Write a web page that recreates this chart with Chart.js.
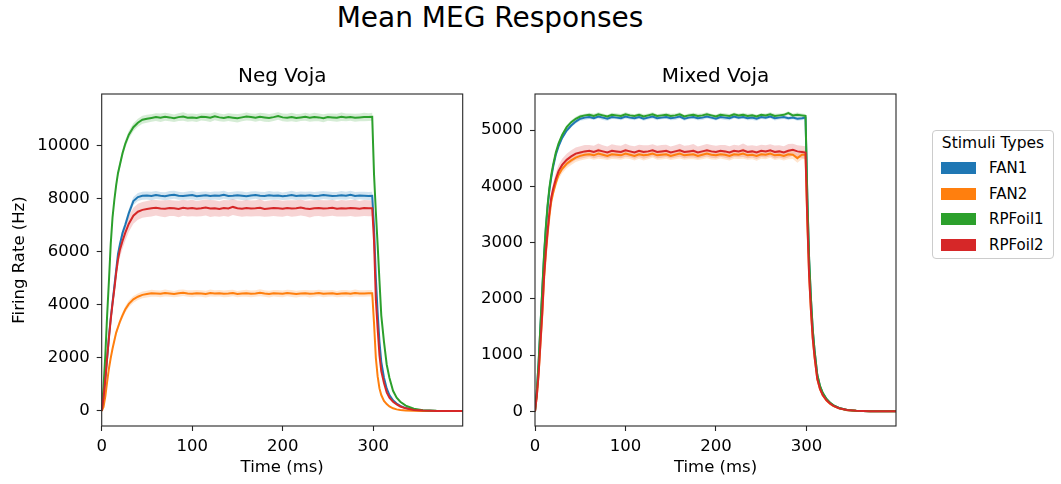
<!DOCTYPE html>
<html>
<head>
<meta charset="utf-8">
<script src="https://cdn.jsdelivr.net/npm/chart.js@4.4.1/dist/chart.umd.min.js"></script>
<style>
html,body{margin:0;padding:0;background:#fff;}
body{width:1061px;height:484px;position:relative;overflow:hidden;font-family:'DejaVu Sans',sans-serif;color:#000;}
#suptitle{position:absolute;left:0;width:980px;top:4px;text-align:center;font-size:28px;line-height:28px;}
#c1{position:absolute;left:0;top:0;}
#c2{position:absolute;left:470px;top:0;}
#legend{position:absolute;left:932px;top:130px;width:122px;height:129px;box-sizing:border-box;border:1px solid #cccccc;border-radius:4px;background:#fff;}
#legend .ttl{position:absolute;left:0;width:100%;top:3px;text-align:center;font-size:15.5px;line-height:18px;white-space:nowrap;}
#legend .sw{position:absolute;left:8px;width:35px;height:12px;}
#legend .lb{position:absolute;left:56px;font-size:15px;line-height:18px;white-space:nowrap;}
</style>
</head>
<body>
<div id="suptitle">Mean MEG Responses</div>
<canvas id="c1" width="470" height="484"></canvas>
<canvas id="c2" width="440" height="484"></canvas>
<div id="legend"></div>
<script>
// ---------- data ----------
const SERIES = ['FAN1', 'FAN2', 'RPFoil1', 'RPFoil2'];
const COLORS = ['#1f77b4', '#ff7f0e', '#2ca02c', '#d62728'];
const BAND_COLORS = ['rgba(31,119,180,0.2)', 'rgba(255,127,14,0.2)', 'rgba(44,160,44,0.2)', 'rgba(214,39,40,0.2)'];
const PANEL_TITLES = ['Neg Voja', 'Mixed Voja'];
const LEGEND_TITLE = 'Stimuli Types';
const X_TICKS = [0, 100, 200, 300];
const Y_TICKS_NEG = [0, 2000, 4000, 6000, 8000, 10000];
const Y_TICKS_MIX = [0, 1000, 2000, 3000, 4000, 5000];

const TIME_MS = [0,2,4,6,8,10,12,14,16,18,20,23,26,30,35,40,45,
  50,55,60,65,70,75,80,85,90,95,100,105,110,115,120,125,130,135,140,145,150,155,160,165,170,175,180,185,190,195,200,205,210,215,220,225,230,235,240,245,250,255,260,265,270,275,280,285,290,295,
  299,301,303,305,307,309,312,315,318,322,326,330,336,345,355,370,385,399];

// Neg Voja – mean firing rate (Hz)
const negFAN1 = [0,500,1200,2000,2800,3500,4100,4700,5300,5900,6250,6700,7000,7450,7900,8050,8100,
  8110,8090,8130,8100,8080,8120,8140,8100,8090,8110,
  8130,8080,8100,8120,8090,8110,8100,8140,8090,8100,
  8120,8100,8080,8110,8130,8100,8090,8120,8100,8110,
  8080,8100,8130,8090,8110,8100,8120,8090,8100,8130,
  8110,8090,8100,8120,8100,8140,8090,8110,8100,8090,
  8100,6900,5000,3700,2600,1850,1250,850,600,400,280,190,110,45,16,4,1,0];
const negFAN2 = [0,150,550,1100,1600,2000,2350,2650,2950,3150,3350,3600,3820,4030,4200,4300,4370,
  4400,4430,4420,4410,4440,4420,4400,4430,4450,4420,
  4410,4430,4420,4400,4440,4420,4430,4410,4420,4440,
  4400,4420,4430,4410,4420,4450,4420,4400,4430,4420,
  4410,4440,4420,4400,4420,4430,4410,4420,4440,4410,
  4420,4430,4400,4420,4430,4410,4440,4420,4420,4430,
  4430,3300,2000,1300,850,600,380,260,170,100,60,40,20,8,3,1,0,0];
const negRPFoil1 = [0,900,2100,3600,4900,6300,7300,7950,8500,8950,9250,9700,10050,10400,10680,10850,10960,
  11000,11030,11060,11040,11070,11050,11020,11060,11080,11040,
  11050,11030,11070,11060,11040,11090,11050,11030,11060,11040,
  11020,11050,11080,11060,11040,11070,11050,11030,11060,11100,
  11050,11040,11060,11030,11050,11070,11040,11060,11050,11020,
  11060,11050,11040,11070,11050,11060,11040,11050,11060,11060,
  11070,8900,7500,6250,4900,3600,2600,1750,1250,760,500,350,200,85,30,8,2,0];
const negRPFoil2 = [0,500,1200,2000,2750,3450,4050,4600,5200,5700,6050,6400,6700,7050,7350,7500,7570,
  7600,7630,7650,7620,7610,7640,7630,7600,7650,7620,
  7640,7610,7630,7660,7620,7630,7600,7640,7620,7680,
  7630,7610,7640,7620,7630,7650,7600,7620,7640,7630,
  7610,7640,7620,7630,7660,7620,7600,7630,7640,7620,
  7630,7650,7610,7630,7620,7640,7630,7610,7640,7630,
  7630,6400,4200,3100,2100,1500,1050,700,500,350,250,170,100,40,15,4,1,0];

// Neg Voja – half width of the shaded band
const sdNegFAN1 = [0,20,50,80,100,110,120,130,140,145,150,150,150,150,150,150,150,
  150,160,150,140,150,160,150,150,140,150,
  160,150,150,140,150,150,160,150,140,150,
  150,160,150,150,140,150,150,160,150,150,
  140,150,160,150,150,150,140,150,160,150,
  150,150,140,160,150,150,150,140,150,150,
  150,120,90,70,50,35,25,18,12,8,5,3,2,1,0,0,0,0];
const sdNegFAN2 = [0,10,30,50,70,80,90,100,110,115,120,120,125,125,125,125,125,
  125,130,120,125,135,125,120,130,125,125,
  130,120,125,125,135,125,120,125,130,125,
  120,125,130,125,125,135,120,125,125,130,
  125,120,130,125,125,120,135,125,125,130,
  125,125,120,130,125,125,135,120,125,125,
  125,95,60,40,25,18,11,8,5,3,2,1,1,0,0,0,0,0];
const sdNegRPFoil1 = [0,20,50,80,100,120,130,140,140,145,145,150,150,150,150,150,150,
  150,140,150,160,150,150,140,150,160,150,
  150,150,140,150,160,150,150,140,150,150,
  160,150,150,140,150,150,160,150,150,140,
  150,150,160,150,140,150,150,160,150,150,
  140,150,150,160,150,140,150,150,160,150,
  150,120,100,85,65,50,35,25,18,11,7,5,3,1,0,0,0,0];
const sdNegRPFoil2 = [0,30,80,130,170,200,220,240,260,270,280,290,300,300,300,300,300,
  300,310,290,300,320,300,290,310,300,300,
  310,290,300,300,320,300,290,300,310,300,
  290,300,310,300,300,320,290,300,300,310,
  300,290,310,300,300,290,320,300,300,310,
  300,300,290,310,300,300,320,290,300,300,
  300,250,170,120,80,60,40,28,20,14,10,7,4,2,1,0,0,0];

// Mixed Voja – mean firing rate (Hz)
const mixFAN1 = [0,350,860,1500,2130,2750,3250,3640,3940,4160,4340,4560,4710,4860,4990,5080,5150,
  5200,5220,5230,5210,5240,5220,5200,5230,5220,5210,
  5240,5220,5210,5230,5200,5220,5240,5210,5220,5230,
  5210,5220,5240,5200,5220,5230,5210,5220,5240,5220,
  5200,5230,5220,5210,5240,5220,5230,5210,5220,5200,
  5230,5220,5240,5210,5220,5230,5210,5220,5200,5210,
  5220,3780,2690,1990,1440,1075,645,445,325,222,152,103,59,24,9,2,0,0];
const mixFAN2 = [0,270,660,1190,1710,2350,2800,3160,3480,3730,3880,4060,4200,4310,4400,4460,4510,
  4540,4560,4570,4550,4580,4560,4540,4570,4560,4550,
  4580,4560,4540,4570,4550,4560,4580,4550,4560,4570,
  4540,4560,4580,4550,4560,4570,4540,4560,4580,4560,
  4550,4570,4560,4540,4570,4560,4580,4550,4560,4540,
  4570,4560,4580,4550,4560,4540,4570,4560,4500,4560,
  4560,3370,2400,1780,1290,960,575,395,285,195,135,92,52,21,8,2,0,0];
const mixRPFoil1 = [0,350,870,1520,2150,2780,3280,3680,3980,4200,4380,4600,4760,4910,5050,5140,5200,
  5240,5260,5270,5250,5280,5260,5240,5270,5260,5250,
  5280,5260,5250,5270,5240,5260,5280,5250,5260,5270,
  5250,5260,5280,5240,5260,5270,5250,5260,5280,5260,
  5240,5270,5260,5250,5280,5260,5270,5250,5260,5240,
  5270,5260,5280,5250,5260,5270,5300,5260,5270,5260,
  5250,3800,2700,2000,1450,1080,650,450,330,225,155,105,60,25,9,2,0,0];
const mixRPFoil2 = [0,280,680,1220,1750,2400,2850,3220,3550,3800,3950,4130,4270,4380,4470,4530,4580,
  4600,4620,4630,4610,4640,4620,4600,4630,4620,4610,
  4640,4620,4600,4630,4610,4620,4640,4610,4620,4630,
  4600,4620,4640,4610,4620,4630,4600,4620,4640,4620,
  4610,4630,4620,4600,4630,4620,4640,4610,4620,4600,
  4630,4620,4640,4610,4620,4600,4630,4650,4620,4610,
  4600,3400,2420,1800,1300,970,580,400,290,200,140,95,55,22,8,2,0,0];

// Mixed Voja – half width of the shaded band
const sdMixFAN1 = [0,5,10,15,20,25,30,30,35,35,35,35,35,35,35,35,35,
  35,40,35,30,35,40,35,35,30,35,
  40,35,35,30,35,35,40,35,30,35,
  35,40,35,35,30,35,35,40,35,35,
  30,35,40,35,35,35,30,35,40,35,
  35,35,30,40,35,35,35,30,35,35,
  35,25,18,13,10,7,4,3,2,1,1,1,0,0,0,0,0,0];
const sdMixFAN2 = [0,10,20,30,40,50,60,65,70,75,80,80,80,80,80,80,80,
  80,85,75,80,90,80,75,85,80,80,
  85,75,80,80,90,80,75,80,85,80,
  75,80,85,80,80,90,75,80,80,85,
  80,75,85,80,80,75,90,80,80,85,
  80,80,75,85,80,80,90,75,80,80,
  80,60,42,31,23,17,10,7,5,3,2,2,1,0,0,0,0,0];
const sdMixRPFoil1 = [0,5,10,15,20,25,30,30,35,35,35,35,35,35,35,35,35,
  35,30,35,40,35,35,30,35,40,35,
  35,35,30,35,40,35,35,30,35,35,
  40,35,35,30,35,35,40,35,35,30,
  35,35,40,35,30,35,35,40,35,35,
  30,35,35,40,35,30,35,35,40,35,
  35,25,18,13,10,7,4,3,2,1,1,1,0,0,0,0,0,0];
const sdMixRPFoil2 = [0,15,30,45,60,70,80,90,95,100,105,110,110,110,110,110,110,
  110,115,105,110,120,110,105,115,110,110,
  115,105,110,110,120,110,105,110,115,110,
  105,110,115,110,110,120,105,110,110,115,
  110,105,115,110,110,105,120,110,110,115,
  110,110,105,115,110,110,120,105,110,110,
  110,80,57,42,31,23,14,10,7,5,3,2,1,1,0,0,0,0];

// ---------- chart ----------
Chart.defaults.font.family = "'DejaVu Sans', sans-serif";
Chart.defaults.font.size = 16.5;
Chart.defaults.color = '#000';

const framePlugin = {
  id: 'frame',
  afterDraw(chart) {
    const a = chart.chartArea, ctx = chart.ctx;
    ctx.save();
    ctx.strokeStyle = '#262626';
    ctx.lineWidth = 1.1;
    ctx.strokeRect(a.left, a.top, a.right - a.left, a.bottom - a.top);
    ctx.restore();
  }
};

function pts(vals) { return TIME_MS.map((t, i) => ({x: t, y: vals[i]})); }
function bandPts(vals, sd, sign) { return TIME_MS.map((t, i) => ({x: t, y: vals[i] + sign * sd[i]})); }

function buildDatasets(valsList, sdList) {
  const ds = [];
  SERIES.forEach((name, k) => {
    ds.push({label: name + ' band', data: bandPts(valsList[k], sdList[k], 1), borderWidth: 0,
      borderColor: 'rgba(0,0,0,0)', pointRadius: 0, fill: '+1', backgroundColor: BAND_COLORS[k], order: 20});
    ds.push({label: name + ' band low', data: bandPts(valsList[k], sdList[k], -1), borderWidth: 0,
      borderColor: 'rgba(0,0,0,0)', pointRadius: 0, fill: false, order: 20});
  });
  SERIES.forEach((name, k) => {
    ds.push({label: name, data: pts(valsList[k]), borderColor: COLORS[k], backgroundColor: COLORS[k],
      borderWidth: 2, pointRadius: 0, fill: false, tension: 0, order: 10 - k});
  });
  return ds;
}

function makePanel(canvasId, title, valsList, sdList, yMin, yMax, yTicks, yAxisWidth, rightPad, yTitle) {
  return new Chart(document.getElementById(canvasId), {
    type: 'line',
    data: {datasets: buildDatasets(valsList, sdList)},
    options: {
      responsive: false,
      animation: false,
      devicePixelRatio: 1,
      layout: {padding: {left: 0, right: rightPad, top: 0, bottom: 0}},
      plugins: {
        legend: {display: false},
        tooltip: {enabled: false},
        title: {display: true, text: title, fullSize: false, font: {size: 20, weight: 'normal'},
          color: '#000', padding: {top: 64.5, bottom: 5.5}}
      },
      scales: {
        x: {
          type: 'linear', min: 0, max: 399,
          afterBuildTicks: s => { s.ticks = X_TICKS.map(v => ({value: v})); },
          afterFit: s => { s.height = 58; },
          ticks: {padding: 6, maxRotation: 0, color: '#000', callback: v => String(v)},
          grid: {display: true, drawOnChartArea: false, drawTicks: true, tickLength: 5, tickColor: '#262626', tickWidth: 1.1},
          border: {display: false},
          title: {display: true, text: 'Time (ms)', color: '#000', padding: {top: 0, bottom: 6}}
        },
        y: {
          type: 'linear', min: yMin, max: yMax,
          afterBuildTicks: s => { s.ticks = yTicks.map(v => ({value: v})); },
          afterFit: s => { s.width = yAxisWidth; },
          ticks: {padding: 7, color: '#000', callback: v => String(v)},
          grid: {display: true, drawOnChartArea: false, drawTicks: true, tickLength: 5, tickColor: '#262626', tickWidth: 1.1},
          border: {display: false},
          title: {display: !!yTitle, text: yTitle || '', color: '#000', padding: {top: 10, bottom: 0}}
        }
      }
    },
    plugins: [framePlugin]
  });
}

makePanel('c1', PANEL_TITLES[0],
  [negFAN1, negFAN2, negRPFoil1, negRPFoil2],
  [sdNegFAN1, sdNegFAN2, sdNegRPFoil1, sdNegRPFoil2],
  -565, 11930, Y_TICKS_NEG, 101.7, 7.3, 'Firing Rate (Hz)');

makePanel('c2', PANEL_TITLES[1],
  [mixFAN1, mixFAN2, mixRPFoil1, mixRPFoil2],
  [sdMixFAN1, sdMixFAN2, sdMixRPFoil1, sdMixRPFoil2],
  -261, 5640, Y_TICKS_MIX, 65, 14, null);

// ---------- legend ----------
(function () {
  const lg = document.getElementById('legend');
  const t = document.createElement('div');
  t.className = 'ttl';
  t.textContent = LEGEND_TITLE;
  lg.appendChild(t);
  SERIES.forEach((name, k) => {
    const cy = 37 + k * 25.6;
    const sw = document.createElement('div');
    sw.className = 'sw';
    sw.style.top = (cy - 6) + 'px';
    sw.style.background = COLORS[k];
    lg.appendChild(sw);
    const lb = document.createElement('div');
    lb.className = 'lb';
    lb.style.top = (cy - 9) + 'px';
    lb.textContent = name;
    lg.appendChild(lb);
  });
})();
</script>
</body>
</html>
